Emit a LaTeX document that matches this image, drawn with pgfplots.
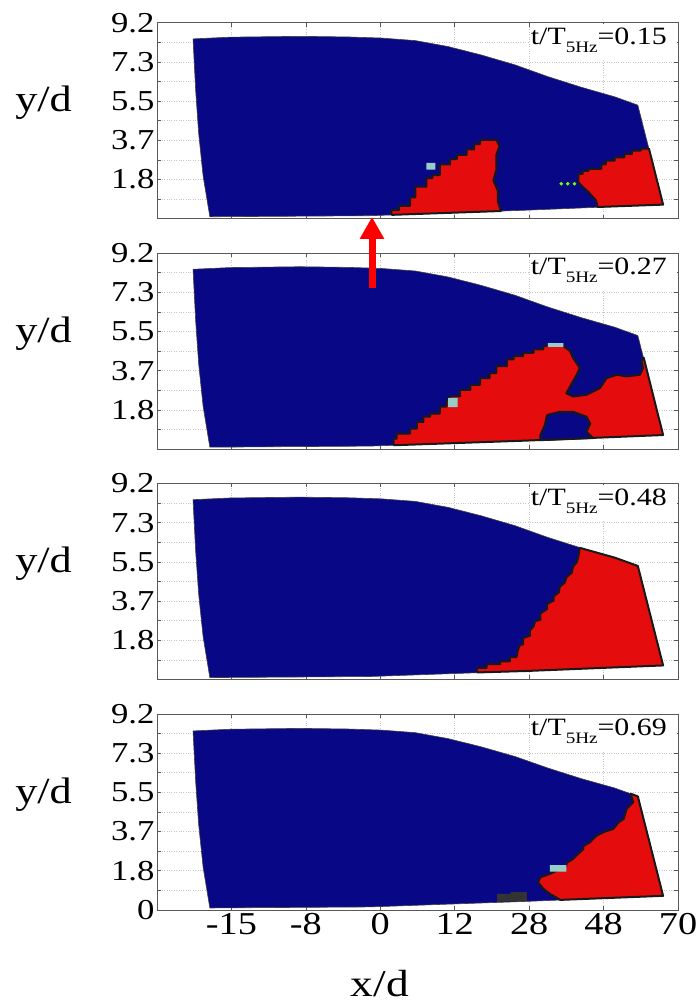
\documentclass[border=0pt]{standalone}
\usepackage{fontspec}
\setmainfont{Liberation Serif}[FakeStretch=1.2]
\usepackage{pgfplots}
\pgfplotsset{compat=1.18}
\usetikzlibrary{arrows.meta}
\definecolor{jblue}{RGB}{8,8,135}
\definecolor{jred}{RGB}{228,12,12}
\definecolor{jcyan}{RGB}{150,205,200}
\pgfplotsset{
 panel/.style={
  scale only axis, width=521bp, height=196bp, anchor=south west,
  xmin=0,xmax=7,ymin=0,ymax=9.2,
  xtick={1,2,3,4,5,6,7}, xticklabels={},
  ytick={0,0.92,1.84,2.76,3.68,4.6,5.52,6.44,7.36,8.28,9.2},
  yticklabels={,,1.8,,3.7,,5.5,,7.3,,9.2},
  tick align=inside, major tick length=4bp,
  xmajorgrids, ymajorgrids,
  grid style={dotted, gray!45, line width=0.6bp},
  axis line style={black!65, line width=0.6bp},
  tick style={black!65, line width=0.5bp},
  /pgf/number format/assume math mode=true,
  yticklabel style={font=\fontsize{29}{29}\selectfont, xshift=1bp},
  xticklabel style={font=\fontsize{32}{32}\selectfont},
  clip=false,
 },
 dom/.style={fill=jblue, draw=black!75, line width=0.6bp},
 rr/.style={fill=jred, draw=black!90, line width=2bp, line join=round},
 bb/.style={fill=jblue, draw=black!90, line width=2bp, line join=round},
}
\newcommand{\tlabel}[1]{%
 \fill[white] (axis cs:5.01,9.15) rectangle (axis cs:6.985,7.5);
 \node[anchor=north east, inner sep=0pt, xshift=-11bp, yshift=-5bp, font=\fontsize{25}{25}\selectfont]
   at (rel axis cs:1,1) {t/T\raisebox{-8bp}{\fontsize{16}{16}\selectfont 5Hz}=#1};
 \node[anchor=east, inner sep=0pt, xshift=-85bp, font=\fontsize{37}{37}\selectfont]
   at (rel axis cs:0,0.59) {y/d};
}
\begin{document}
\begin{tikzpicture}
\useasboundingbox (0,0) rectangle (696bp,1004bp);
% ---------------- panel 1
\begin{axis}[panel, at={(157bp,785.3bp)}]
\addplot[dom] coordinates {(0.484,8.44) (0.98,8.52) (1.92,8.56) (2.57,8.53) (3.01,8.48) (3.47,8.36) (3.91,8.08) (4.35,7.69) (4.81,7.22) (5.25,6.67) (5.70,6.17) (6.15,5.72) (6.46,5.33) (6.80,0.66) (4.97,0.40) (2.86,0.14) (0.71,0.09) (0.62,2.0) (0.56,4.0) (0.52,6.0) (0.484,8.44)};
\addplot[rr] coordinates {(3.15,0.18) (3.15,0.40) (3.25,0.40) (3.25,0.60) (3.40,0.60) (3.40,1.00) (3.47,1.00) (3.47,1.50) (3.62,1.50) (3.62,1.90) (3.70,1.90) (3.70,2.05) (3.80,2.05) (3.80,2.55) (3.94,2.55) (3.94,2.80) (4.03,2.80) (4.03,3.00) (4.16,3.00) (4.16,3.25) (4.26,3.25) (4.26,3.50) (4.34,3.50) (4.34,3.70) (4.56,3.70) (4.60,3.40) (4.56,3.00) (4.56,2.30) (4.52,1.80) (4.58,1.30) (4.58,0.80) (4.62,0.36) (3.15,0.18)};
\addplot[rr] coordinates {(5.66,1.71) (5.66,2.10) (5.72,2.10) (5.72,2.25) (5.80,2.25) (5.80,2.34) (5.97,2.34) (5.97,2.55) (6.03,2.55) (6.03,2.72) (6.15,2.72) (6.15,2.88) (6.28,2.88) (6.28,3.04) (6.38,3.04) (6.38,3.20) (6.50,3.20) (6.50,3.29) (6.61,3.29) (6.80,0.66) (5.92,0.55) (5.90,0.85) (5.80,1.24) (5.72,1.50) (5.66,1.71)};
\addplot[fill=jcyan, draw=none] coordinates {(3.62,2.30) (3.74,2.30) (3.74,2.62) (3.62,2.62) (3.62,2.30)};
\addplot[only marks, mark=*, mark size=1.6bp, color=green!55!yellow] coordinates {(5.43,1.64) (5.52,1.64) (5.61,1.64)};
\tlabel{0.15}
\end{axis}
% ---------------- panel 2
\begin{axis}[panel, at={(157bp,554.9bp)}]
\addplot[dom] coordinates {(0.484,8.44) (0.98,8.52) (1.92,8.56) (2.57,8.53) (3.01,8.48) (3.47,8.36) (3.91,8.08) (4.35,7.69) (4.81,7.22) (5.25,6.67) (5.70,6.17) (6.15,5.72) (6.46,5.33) (6.80,0.66) (4.97,0.40) (2.86,0.14) (0.71,0.09) (0.62,2.0) (0.56,4.0) (0.52,6.0) (0.484,8.44)};
\addplot[rr] coordinates {(3.18,0.18) (3.18,0.49) (3.22,0.49) (3.22,0.73) (3.40,0.73) (3.40,0.96) (3.49,0.96) (3.49,1.28) (3.58,1.28) (3.58,1.52) (3.67,1.52) (3.67,1.67) (3.80,1.67) (3.80,1.99) (3.89,1.99) (3.89,2.31) (3.94,2.31) (3.94,2.47) (4.07,2.47) (4.07,2.78) (4.21,2.78) (4.21,3.02) (4.34,3.02) (4.34,3.33) (4.47,3.33) (4.47,3.57) (4.56,3.57) (4.56,3.89) (4.70,3.89) (4.70,4.21) (4.79,4.21) (4.79,4.36) (4.92,4.36) (4.92,4.52) (5.06,4.52) (5.06,4.68) (5.19,4.68) (5.19,4.84) (5.46,4.84) (5.55,4.60) (5.59,4.28) (5.68,3.81) (5.64,3.49) (5.55,2.94) (5.50,2.62) (5.59,2.47) (5.77,2.55) (5.95,2.86) (6.04,3.33) (6.18,3.49) (6.31,3.41) (6.49,3.49) (6.53,3.81) (6.51,4.13) (6.54,4.28) (6.80,0.66) (4.97,0.40) (3.18,0.18)};
\addplot[bb] coordinates {(5.24,1.60) (5.41,1.75) (5.59,1.75) (5.77,1.52) (5.82,1.20) (5.77,0.81) (5.86,0.52) (5.15,0.42) (5.15,0.65) (5.21,1.12) (5.24,1.60)};
\addplot[fill=jcyan, draw=none] coordinates {(3.91,1.97) (4.04,1.97) (4.04,2.40) (3.91,2.40) (3.91,1.97)};
\addplot[fill=jcyan, draw=none] coordinates {(5.25,4.80) (5.46,4.80) (5.46,4.97) (5.25,4.97) (5.25,4.80)};
\tlabel{0.27}
\draw[color=red, line width=7bp, -{Triangle[width=23bp,length=22bp]}] (axis cs:2.889,7.56) -- (axis cs:2.889,10.9);
\end{axis}
% ---------------- panel 3
\begin{axis}[panel, at={(157bp,324.5bp)}]
\addplot[dom] coordinates {(0.484,8.44) (0.98,8.52) (1.92,8.56) (2.57,8.53) (3.01,8.48) (3.47,8.36) (3.91,8.08) (4.35,7.69) (4.81,7.22) (5.25,6.67) (5.70,6.17) (6.15,5.72) (6.46,5.33) (6.80,0.66) (4.97,0.40) (2.86,0.14) (0.71,0.09) (0.62,2.0) (0.56,4.0) (0.52,6.0) (0.484,8.44)};
\addplot[rr] coordinates {(4.30,0.33) (4.30,0.55) (4.43,0.55) (4.43,0.72) (4.61,0.72) (4.61,0.85) (4.74,0.85) (4.74,1.05) (4.83,1.05) (4.85,1.40) (4.88,1.64) (4.92,1.64) (4.92,1.95) (5.01,2.05) (5.01,2.30) (5.06,2.50) (5.08,2.74) (5.15,2.80) (5.15,3.10) (5.24,3.30) (5.24,3.55) (5.33,3.70) (5.33,3.90) (5.40,4.10) (5.41,4.35) (5.48,4.55) (5.50,4.80) (5.57,5.00) (5.59,5.30) (5.64,5.50) (5.66,5.75) (5.68,6.18) (6.15,5.72) (6.46,5.33) (6.80,0.66) (4.97,0.40) (4.30,0.33)};
\tlabel{0.48}
\end{axis}
% ---------------- panel 4
\begin{axis}[panel, at={(157bp,94.1bp)},
  xticklabels={-15,-8,0,12,28,48,70},
  yticklabels={0,,1.8,,3.7,,5.5,,7.3,,9.2}]
\addplot[dom] coordinates {(0.484,8.40) (0.98,8.48) (1.92,8.52) (2.57,8.49) (3.01,8.44) (3.47,8.32) (3.91,8.04) (4.35,7.66) (4.81,7.20) (5.25,6.66) (5.70,6.16) (6.15,5.72) (6.46,5.33) (6.80,0.66) (4.97,0.40) (2.86,0.14) (0.71,0.09) (0.62,2.0) (0.56,4.0) (0.52,6.0) (0.484,8.40)};
\addplot[rr] coordinates {(6.36,5.46) (6.40,5.06) (6.31,4.74) (6.27,4.27) (6.20,4.10) (6.13,3.80) (6.00,3.65) (5.91,3.49) (5.85,3.30) (5.82,3.18) (5.73,3.00) (5.73,2.86) (5.65,2.60) (5.59,2.39) (5.50,2.20) (5.50,2.08) (5.37,1.84) (5.28,1.69) (5.15,1.53) (5.12,1.30) (5.19,0.99) (5.28,0.75) (5.42,0.47) (6.80,0.66) (6.46,5.33) (6.36,5.46)};
\addplot[fill=jcyan, draw=none] coordinates {(5.28,1.80) (5.50,1.80) (5.50,2.10) (5.28,2.10) (5.28,1.80)};
\addplot[fill=black!80, draw=none] coordinates {(4.57,0.38) (4.57,0.75) (4.75,0.75) (4.75,0.84) (4.97,0.84) (4.97,0.42) (4.57,0.38)};
\tlabel{0.69}
\node[anchor=base, inner sep=0pt, font=\fontsize{38}{38}\selectfont] at (axis cs:2.996,-4.07) {x/d};
\end{axis}
\end{tikzpicture}
\end{document}
